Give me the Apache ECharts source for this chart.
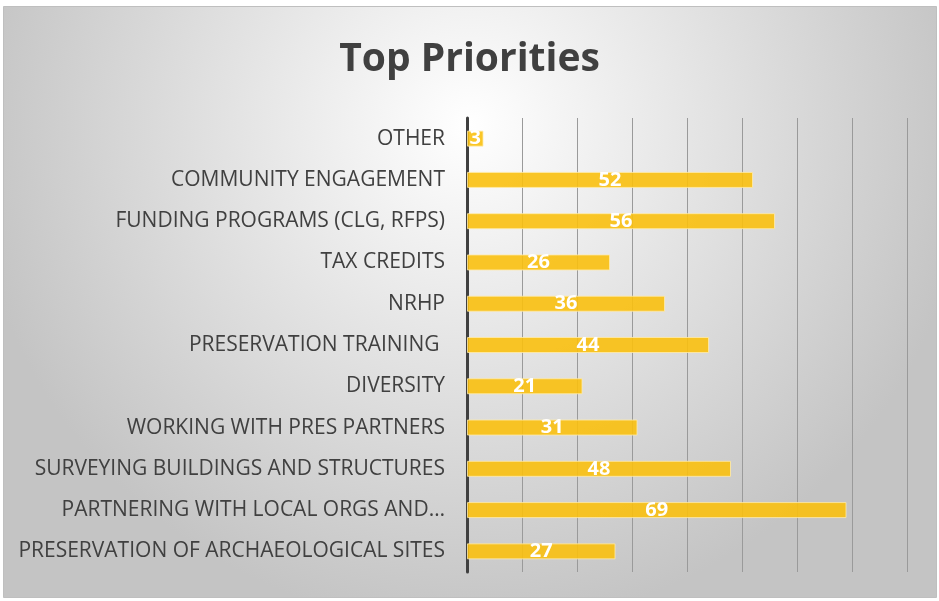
<!DOCTYPE html>
<html>
<head>
<meta charset="utf-8">
<script src="https://cdn.jsdelivr.net/npm/echarts@6/dist/echarts.min.js"></script>
<style>
html,body{margin:0;padding:0;background:#fff;}
#c{width:939px;height:601px;}
</style>
</head>
<body>
<div id="c"></div>
<script>
const categories = [
  "OTHER",
  "COMMUNITY ENGAGEMENT",
  "FUNDING PROGRAMS (CLG, RFPS)",
  "TAX CREDITS",
  "NRHP",
  "PRESERVATION TRAINING ",
  "DIVERSITY",
  "WORKING WITH PRES PARTNERS",
  "SURVEYING BUILDINGS AND STRUCTURES",
  "PARTNERING WITH LOCAL ORGS AND\u2026",
  "PRESERVATION OF ARCHAEOLOGICAL SITES"
];
const values = [3, 52, 56, 26, 36, 44, 21, 31, 48, 69, 27];
const titleText = "Top Priorities";

const chart = echarts.init(document.getElementById('c'), null, {renderer: 'canvas'});
chart.setOption({
  animation: false,
  backgroundColor: '#ffffff',
  graphic: [{
    type: 'rect',
    z: -10,
    silent: true,
    shape: {x: 3.5, y: 6.5, width: 933, height: 591},
    style: {
      fill: new echarts.graphic.RadialGradient(0.5, 0.2, 0.85, [
        {offset: 0, color: '#ffffff'},
        {offset: 1, color: '#c4c4c4'}
      ]),
      stroke: '#bfbfbf',
      lineWidth: 1
    }
  }],
  title: {
    text: titleText,
    left: 'center',
    top: 35,
    textStyle: {fontFamily: 'Open Sans', fontWeight: 'bold', fontSize: 39, color: '#404040'}
  },
  grid: {left: 467, right: 32, top: 118, bottom: 29, containLabel: false},
  xAxis: {
    type: 'value', min: 0, max: 80, interval: 10,
    axisLabel: {show: false},
    axisLine: {show: false},
    axisTick: {show: false},
    splitLine: {show: true, lineStyle: {color: '#9a9a9a', width: 1}}
  },
  yAxis: {
    type: 'category', inverse: true, data: categories,
    axisLine: {show: true, lineStyle: {color: '#404040', width: 3}},
    axisTick: {show: false},
    axisLabel: {margin: 22, fontFamily: 'Open Sans', fontSize: 21, color: '#404040'}
  },
  series: [{
    type: 'bar', data: values, barWidth: 16,
    itemStyle: {color: 'rgba(249,192,15,0.9)', borderColor: 'rgba(255,235,170,0.8)', borderWidth: 1},
    label: {show: true, position: 'inside', color: '#ffffff', fontFamily: 'Open Sans', fontWeight: 'bold', fontSize: 20}
  }]
});
</script>
</body>
</html>
